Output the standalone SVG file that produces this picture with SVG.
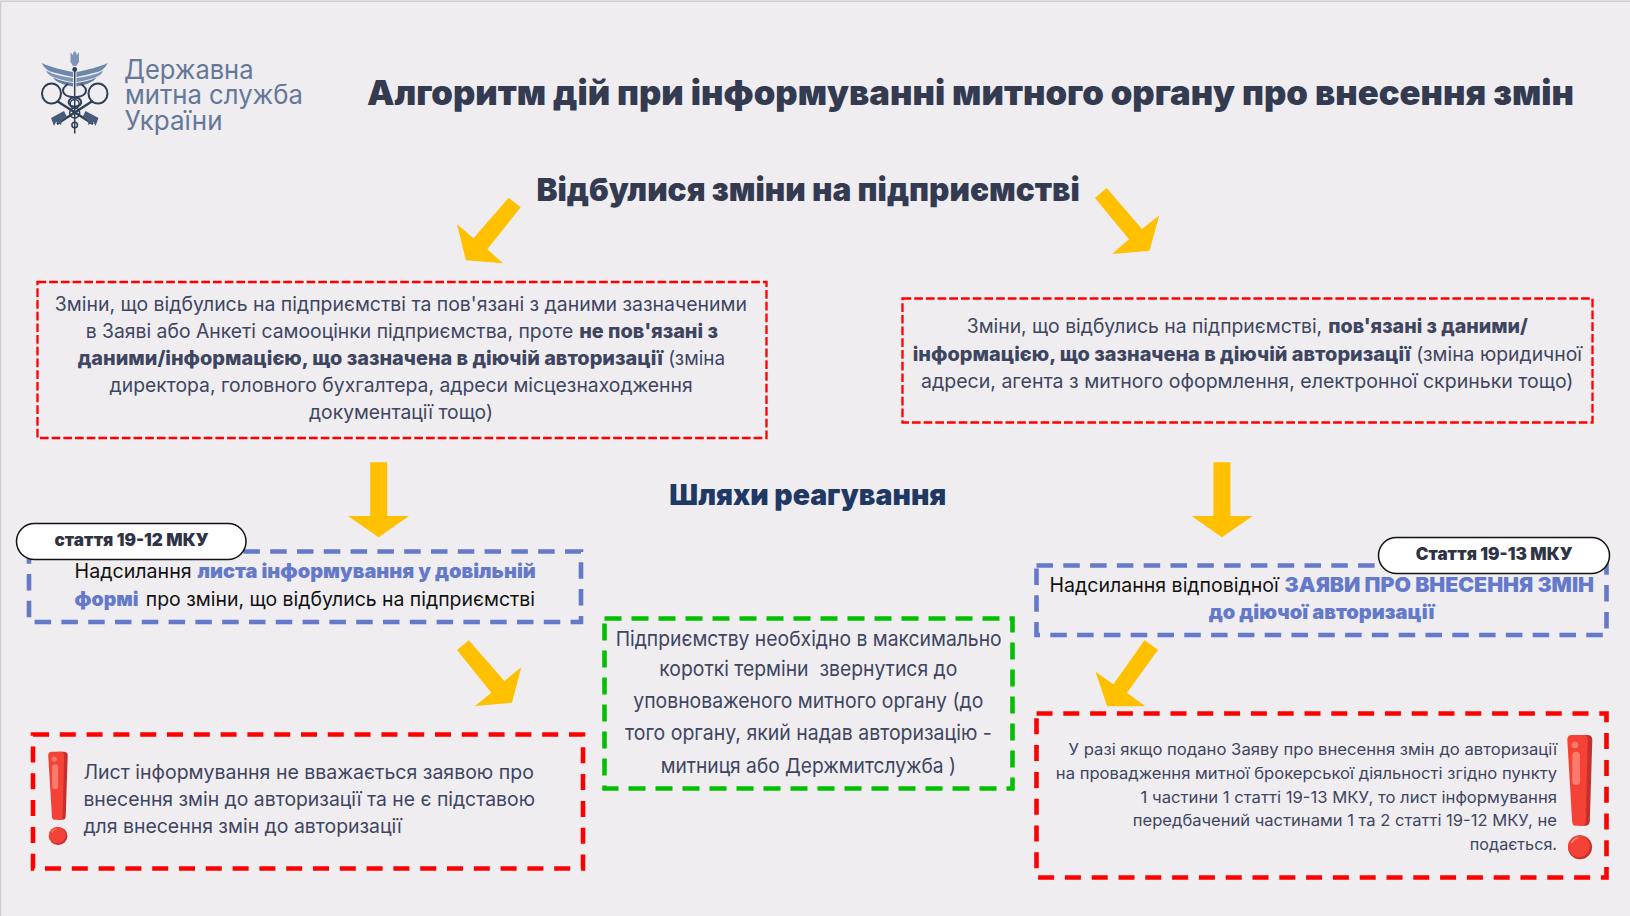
<svg xmlns="http://www.w3.org/2000/svg" width="1630" height="916" viewBox="0 0 1630 916">
<defs>
<g id="bang">
<path fill="#c62f2b" d="M12 0H20Q25 0 25 5L22.500 86Q22.300 90.700 18 90.700H12Z"/>
<path fill="#f44336" d="M4.500 0H18Q20 1 20.500 5L18.500 86Q18.300 90.700 14 90.700H8Q5 90.700 4.800 86L0 5Q0 0 4.500 0Z"/>
<rect x="5" y="16.700" width="7.700" height="33.300" rx="3.800" fill="#fb7a6e"/>
<circle cx="7.700" cy="10" r="3.300" fill="#fb7a6e"/>
<circle cx="12.700" cy="112.300" r="12" fill="#c62f2b"/>
<circle cx="11.700" cy="111.300" r="10.800" fill="#f44336"/>
<path d="M4.500 108Q6 103.500 11 103" fill="none" stroke="#fb8a7e" stroke-width="1.500"/>
</g>
<g id="wing">
<path fill="#6d88aa" d="M73 72C62 70 50 67 41.700 63C44 68 48 71 52 72C60 74 68 76 73 77Z"/>
<path fill="#7d96b5" d="M73 78C64 77 54 75 46 70.500C48 75 52 77 56 78C62 80 68 81.500 73 82Z"/>
<path fill="#5f7b9e" d="M73 83C67 82 60 81 53 77.500C56 82 62 84 66 85L73 86.500Z"/>
</g>
</defs>
<style>
text{font-family:"Inter","Noto Sans","Liberation Sans",sans-serif;fill:#3e4560}
.b{font-weight:800}
.h{font-weight:900;fill:#343a50}
.r{font-weight:400}
.box{fill:none}
.thin{stroke:#ff0000;stroke-width:2.300;stroke-dasharray:8.700 3}
.red{stroke:#ff0000;stroke-width:4.600;stroke-dasharray:16 10.800}
.blue{stroke:#6479c9;stroke-width:4.600;stroke-dasharray:16.500 10.300}
.green{stroke:#00c000;stroke-width:4.600;stroke-dasharray:17 10}
.pill{fill:#fff;stroke:#111;stroke-width:1.500}
.arr{fill:#ffc000}
.t1{font-size:19.500px}
.t2{font-size:20px;fill:#111}
.t3{font-size:20.500px}
.t4{font-size:16.300px}
.lb{fill:#6479c9;font-weight:900}
.pt{font-size:17px;font-weight:900;fill:#2f3445}
.logo{font-size:26.500px;fill:#64789a}
.d{fill:none;stroke:#2e3f57}
</style>
<rect width="1630" height="916" fill="#efedf0"/>
<path d="M0.500 916V1.200H1630" fill="none" stroke="#cfcfcf" stroke-width="1.600"/>

<g id="logo">
<use href="#wing"/>
<use href="#wing" transform="translate(149.400 0) scale(-1 1)"/>
<path fill="#7d96b5" d="M70.500 52L72.500 55L74 51.500L75.500 51.500L76.800 55L79 52L79 62L76.300 66L73 66L70.500 62Z"/>
<circle cx="74.700" cy="69.500" r="2.400" fill="#2e3f57"/>
<path d="M74.700 68V133.500" stroke="#2e3f57" stroke-width="1.500" fill="none"/>
<ellipse class="d" cx="51.500" cy="93.500" rx="9.500" ry="10" stroke-width="2"/>
<ellipse class="d" cx="98" cy="93.500" rx="9.500" ry="10" stroke-width="2"/>
<path class="d" stroke-width="2.500" d="M57 101L93 124M92.500 101L57 124"/>
<path fill="#475c78" d="M51 118L64 111L67 117L62 120L61 125L56 122L54 126Z"/>
<path fill="#475c78" d="M98.500 118L85.500 111L82.500 117L87.500 120L88.500 125L93.500 122L95.500 126Z"/>
<path class="d" stroke-width="2" d="M68 84C60 89 62 96 72 97C84 98 84 106 74 107M81 84C89 89 87 96 77 97C66 98 66 106 76 107"/>
<circle class="d" cx="74.700" cy="104" r="4.500" stroke-width="1.500"/>
<circle class="d" cx="74.700" cy="113" r="5" stroke-width="1.500"/>
<circle class="d" cx="74.700" cy="125" r="2.800" stroke-width="1.500"/>
<text class="logo" x="124" y="78.500" textLength="129.500" lengthAdjust="spacingAndGlyphs">Державна</text>
<text class="logo" x="125" y="104" textLength="178" lengthAdjust="spacingAndGlyphs">митна служба</text>
<text class="logo" x="124.500" y="130" textLength="98" lengthAdjust="spacingAndGlyphs">України</text>
</g>

<g id="title"><text class="h" font-size="34.500" x="367" y="105" textLength="1207" lengthAdjust="spacingAndGlyphs">Алгоритм дій при інформуванні митного органу про внесення змін</text></g>
<g id="subtitle"><text class="h" font-size="32" x="536.400" y="201" textLength="543.400" lengthAdjust="spacingAndGlyphs">Відбулися зміни на підприємстві</text></g>
<g id="responses-title"><text class="h" font-size="29" x="669.300" y="505" textLength="277" lengthAdjust="spacingAndGlyphs" style="fill:#1f3864">Шляхи реагування</text></g>

<g id="connectors">
<polygon class="arr" points="508.600,197.700 520.700,207.300 487.300,249.300 503,263.300 466,260.300 457,224.300 473.500,238.300"/>
<polygon class="arr" points="1106.600,188 1095,198 1129,239.300 1112,254 1149.500,250.700 1159.300,215.300 1142,229"/>
<polygon class="arr" points="370.200,462.300 387.200,462.300 387.200,516 409,516 378.700,537.300 347.900,516 370.200,516"/>
<polygon class="arr" points="1213.400,462.300 1230.400,462.300 1230.400,516 1252.600,516 1222,537.300 1191.600,516 1213.400,516"/>
<polygon class="arr" points="468.800,640.300 457,650 491.400,692.700 474.900,706 512,702.700 521.200,667.300 504.400,681"/>
<polygon class="arr" points="1144.500,640.300 1158.100,649.700 1127,692.700 1145.300,706.300 1107.200,706.300 1095.500,671.700 1113.400,684.300"/>
</g>

<g id="change-left">
<rect class="box thin" x="37.500" y="282" width="729" height="156"/>
<text class="t1 r" x="54.800" y="310.700" textLength="692.100" lengthAdjust="spacingAndGlyphs">Зміни, що відбулись на підприємстві та пов'язані з даними зазначеними</text>
<text class="t1 r" x="85.700" y="338" textLength="487.500" lengthAdjust="spacingAndGlyphs">в Заяві або Анкеті самооцінки підприємства, проте</text>
<text class="t1 b" x="579.200" y="338" textLength="138.800" lengthAdjust="spacingAndGlyphs">не пов'язані з</text>
<text class="t1 b" x="77.700" y="365" textLength="585.100" lengthAdjust="spacingAndGlyphs">даними/інформацією, що зазначена в діючій авторизації</text>
<text class="t1 r" x="668.200" y="365" textLength="56.800" lengthAdjust="spacingAndGlyphs">(зміна</text>
<text class="t1 r" x="109.600" y="392" textLength="583" lengthAdjust="spacingAndGlyphs">директора, головного бухгалтера, адреси місцезнаходження</text>
<text class="t1 r" x="309" y="419" textLength="184" lengthAdjust="spacingAndGlyphs">документації тощо)</text>
</g>

<g id="change-right">
<rect class="box thin" x="902.500" y="298.500" width="690" height="124"/>
<text class="t1 r" x="966.700" y="333.300" textLength="355.500" lengthAdjust="spacingAndGlyphs">Зміни, що відбулись на підприємстві,</text>
<text class="t1 b" x="1328.200" y="333.300" textLength="199.800" lengthAdjust="spacingAndGlyphs">пов'язані з даними/</text>
<text class="t1 b" x="912.700" y="361" textLength="497.900" lengthAdjust="spacingAndGlyphs">інформацією, що зазначена в діючій авторизації</text>
<text class="t1 r" x="1416.200" y="361" textLength="165.800" lengthAdjust="spacingAndGlyphs">(зміна юридичної</text>
<text class="t1 r" x="921" y="388.300" textLength="652.500" lengthAdjust="spacingAndGlyphs">адреси, агента з митного оформлення, електронної скриньки тощо)</text>
</g>

<g id="letter-box">
<rect class="box blue" x="29" y="551.500" width="552" height="70.500"/>
<text class="t2 r" x="74.600" y="577.700" textLength="117" lengthAdjust="spacingAndGlyphs">Надсилання</text>
<text class="t2 lb" x="197.500" y="577.700" textLength="338.300" lengthAdjust="spacingAndGlyphs">листа інформування у довільній</text>
<text class="t2 lb" x="74.600" y="606" textLength="64" lengthAdjust="spacingAndGlyphs">формі</text>
<text class="t2 r" x="145.800" y="606" textLength="389.200" lengthAdjust="spacingAndGlyphs">про зміни, що відбулись на підприємстві</text>
</g>
<g id="pill-19-12">
<rect class="pill" x="16.500" y="523.500" width="229.500" height="36" rx="18"/>
<text class="pt" x="54.500" y="546" textLength="154" lengthAdjust="spacingAndGlyphs">стаття 19-12 МКУ</text>
</g>

<g id="application-box">
<rect class="box blue" x="1036.500" y="565.500" width="570" height="69.500"/>
<text class="t2 r" x="1049.600" y="591.700" textLength="229.200" lengthAdjust="spacingAndGlyphs">Надсилання відповідної</text>
<text class="t2 lb" x="1284.600" y="591.700" textLength="309.400" lengthAdjust="spacingAndGlyphs">ЗАЯВИ ПРО ВНЕСЕННЯ ЗМІН</text>
<text class="t2 lb" x="1208.700" y="619.300" textLength="225.700" lengthAdjust="spacingAndGlyphs">до діючої авторизації</text>
</g>
<g id="pill-19-13">
<rect class="pill" x="1378.500" y="537.500" width="231" height="36" rx="18"/>
<text class="pt" x="1415.700" y="560" textLength="156.800" lengthAdjust="spacingAndGlyphs">Стаття 19-13 МКУ</text>
</g>

<g id="contact-box">
<rect class="box green" x="604.500" y="618.500" width="408" height="170"/>
<text class="t3 r" x="615.700" y="645.700" textLength="386" lengthAdjust="spacingAndGlyphs">Підприємству необхідно в максимально</text>
<text class="t3 r" x="659.300" y="676.200" textLength="298" lengthAdjust="spacingAndGlyphs" xml:space="preserve">короткі терміни  звернутися до</text>
<text class="t3 r" x="633.300" y="708.300" textLength="350" lengthAdjust="spacingAndGlyphs">уповноваженого митного органу (до</text>
<text class="t3 r" x="625" y="740" textLength="366.700" lengthAdjust="spacingAndGlyphs">того органу, який надав авторизацію -</text>
<text class="t3 r" x="660.700" y="773" textLength="295.300" lengthAdjust="spacingAndGlyphs">митниця або Держмитслужба )</text>
</g>

<g id="warning-left">
<rect class="box red" x="33" y="734.500" width="550" height="134"/>
<use href="#bang" transform="translate(48.200 751.700) scale(0.780 0.750)"/>
<text class="t1 r" x="83.400" y="779.200" textLength="450.500" lengthAdjust="spacingAndGlyphs">Лист інформування не вважається заявою про</text>
<text class="t1 r" x="83.400" y="805.700" textLength="451.600" lengthAdjust="spacingAndGlyphs">внесення змін до авторизації та не є підставою</text>
<text class="t1 r" x="83.400" y="832.700" textLength="318.400" lengthAdjust="spacingAndGlyphs">для внесення змін до авторизації</text>
</g>

<g id="warning-right">
<rect class="box red" x="1036.500" y="713.500" width="570" height="164"/>
<use href="#bang" transform="translate(1567.300 735)"/>
<text class="t4 r" x="1068.600" y="755" textLength="488.400" lengthAdjust="spacingAndGlyphs">У разі якщо подано Заяву про внесення змін до авторизації</text>
<text class="t4 r" x="1055.800" y="779.300" textLength="501.200" lengthAdjust="spacingAndGlyphs">на провадження митної брокерської діяльності згідно пункту</text>
<text class="t4 r" x="1140.600" y="803" textLength="416.400" lengthAdjust="spacingAndGlyphs">1 частини 1 статті 19-13 МКУ, то лист інформування</text>
<text class="t4 r" x="1132.800" y="826.300" textLength="424.200" lengthAdjust="spacingAndGlyphs">передбачений частинами 1 та 2 статті 19-12 МКУ, не</text>
<text class="t4 r" x="1469.800" y="850" textLength="87.200" lengthAdjust="spacingAndGlyphs">подається.</text>
</g>
</svg>
